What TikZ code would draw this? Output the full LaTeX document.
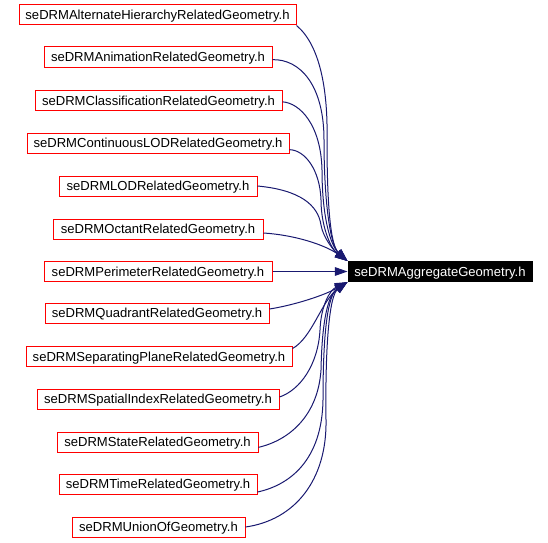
\documentclass[tikz,border=0pt]{standalone}
\usepackage{fontspec}
\setmainfont{Liberation Sans}
\usetikzlibrary{arrows.meta}
\definecolor{edgeblue}{HTML}{191970}
\begin{document}
\begin{tikzpicture}[x=0.75pt,y=-0.75pt,
  filebox/.style={draw=red,line width=0.75pt,fill=white,minimum height=15pt,inner sep=0pt,text depth=0pt,text height=7.2pt,font=\fontsize{9.8}{11}\selectfont},
  tgtbox/.style={draw=black,fill=black,text=white,line width=0.75pt,minimum height=15pt,inner sep=0pt,text depth=0pt,text height=7.2pt,font=\fontsize{9.8}{11}\selectfont},
  dep/.style={draw=edgeblue,line width=0.75pt,-{Triangle[length=9.5pt,width=6.5pt]}}]
\useasboundingbox (0,0) rectangle (548,542);
\node[filebox,minimum width=207.75pt] (alt) at (157.5,15) {seDRMAlternateHierarchyRelatedGeometry.h};
\node[filebox,minimum width=171pt] (anim) at (158,57) {seDRMAnimationRelatedGeometry.h};
\node[filebox,minimum width=185.25pt] (cls) at (158.5,100.5) {seDRMClassificationRelatedGeometry.h};
\node[filebox,minimum width=196.5pt] (clod) at (158,143) {seDRMContinuousLODRelatedGeometry.h};
\node[filebox,minimum width=148.5pt] (lod) at (158,186) {seDRMLODRelatedGeometry.h};
\node[filebox,minimum width=157.5pt] (oct) at (158,229) {seDRMOctantRelatedGeometry.h};
\node[filebox,minimum width=171pt] (peri) at (158,271.5) {seDRMPerimeterRelatedGeometry.h};
\node[filebox,minimum width=168pt] (quad) at (157,313) {seDRMQuadrantRelatedGeometry.h};
\node[filebox,minimum width=199.5pt] (sep) at (159,356.5) {seDRMSeparatingPlaneRelatedGeometry.h};
\node[filebox,minimum width=181.5pt] (spat) at (158,399) {seDRMSpatialIndexRelatedGeometry.h};
\node[filebox,minimum width=150.75pt] (state) at (157.5,442) {seDRMStateRelatedGeometry.h};
\node[filebox,minimum width=148.5pt] (time) at (158,484) {seDRMTimeRelatedGeometry.h};
\node[filebox,minimum width=129.75pt] (union) at (158.5,527) {seDRMUnionOfGeometry.h};
\node[tgtbox,minimum width=138pt] (tgt) at (440,271.5) {seDRMAggregateGeometry.h};
% top group
\draw[dep] (alt.south east) .. controls (320,45) and (328,90) .. (327,140) .. controls (327,200) and (330,245) .. (tgt.north west);
\draw[dep] ([yshift=-2pt]anim.east) .. controls (300,59) and (324,85) .. (324,140) .. controls (324,200) and (330,245) .. (tgt.north west);
\draw[dep] ([yshift=-1pt]cls.east) .. controls (300,103) and (321,125) .. (322,170) .. controls (322,215) and (330,245) .. (tgt.north west);
\draw[dep] ([yshift=-5pt]clod.east) .. controls (305,150) and (320,170) .. (321,200) .. controls (321,225) and (330,248) .. (tgt.north west);
\draw[dep] (lod.east) .. controls (300,190) and (318,205) .. (321,225) .. controls (323,238) and (335,252) .. (tgt.north west);
\draw[dep] ([yshift=-3pt]oct.east) .. controls (295,235) and (325,245) .. (tgt.north west);
% middle
\draw[dep] (peri.east) -- (tgt.west);
% bottom group
\draw[dep] ([yshift=3pt]quad.east) .. controls (295,305) and (325,295) .. (tgt.south west);
\draw[dep] ([yshift=6pt]sep.east) .. controls (312,338) and (322,300) .. (tgt.south west);
\draw[dep] ([yshift=1.5pt]spat.east) .. controls (300,390) and (318,365) .. (320,330) .. controls (321,305) and (330,290) .. (tgt.south west);
\draw[dep] ([yshift=-4pt]state.east) .. controls (290,440) and (318,415) .. (321,370) .. controls (322,320) and (328,295) .. (tgt.south west);
\draw[dep] ([yshift=-6pt]time.east) .. controls (290,485) and (322,460) .. (323,400) .. controls (323,330) and (328,295) .. (tgt.south west);
\draw[dep] (union.east) .. controls (295,520) and (327,480) .. (326,420) .. controls (325,340) and (330,295) .. (tgt.south west);
\end{tikzpicture}
\end{document}
